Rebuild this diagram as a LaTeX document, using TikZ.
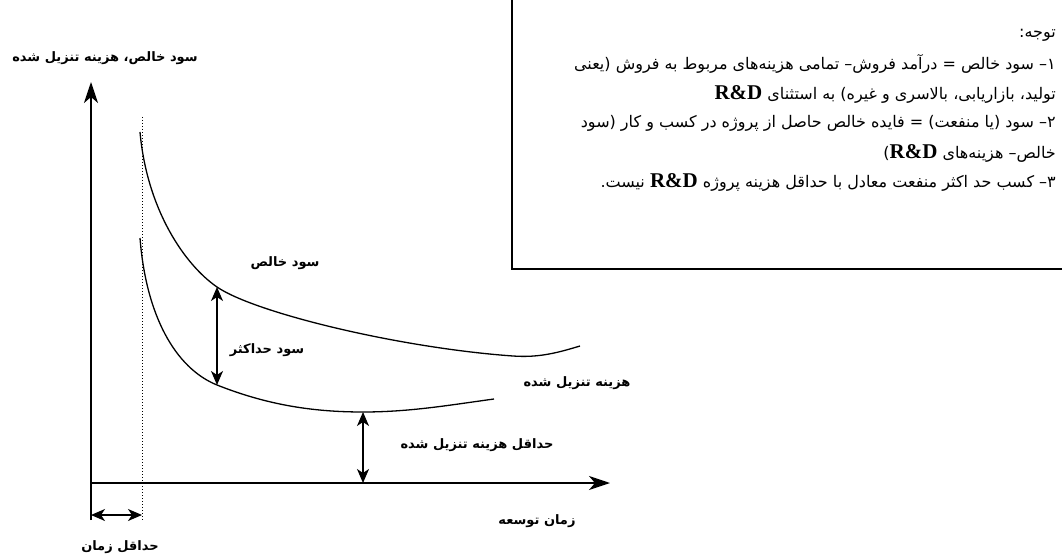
\documentclass[tikz,border=0pt]{standalone}
\usepackage{fontspec}
\usetikzlibrary{arrows.meta}
\TeXXeTstate=1
\newfontfamily\fa[Script=Arabic]{DejaVu Sans}
\newfontfamily\rdfont{Liberation Serif}
\newcommand{\RD}{\beginL{\rdfont\bfseries\fontsize{21}{21}\selectfont R\&D}\endL}

\tikzset{
  axisline/.style={line width=1.6pt, -{Stealth[length=21pt,width=14pt,inset=6pt]}},
  curveline/.style={line width=1.3pt},
  dblarrow/.style={line width=1.4pt,
    {Stealth[length=14pt,width=12pt,inset=4pt]}-{Stealth[length=14pt,width=12pt,inset=4pt]}},
  lbl/.style={font=\fa\bfseries\fontsize{13}{15}\selectfont, inner sep=0pt},
  note/.style={font=\fa\fontsize{16}{19}\selectfont, anchor=east, inner sep=0pt},
}

\begin{document}
\begin{tikzpicture}[x=1pt,y=-1pt]
\useasboundingbox (0,0) rectangle (1062,556);

% note frame (runs off the top and right edges)
\begin{scope}
  \clip (0,0) rectangle (1062,556);
  \draw[line width=1.4pt] (512,-20) rectangle (1080,269);
\end{scope}

% note text
\node[note] (n0) at (1056,35)  {\beginR توجه:\endR};
\node[note] (n1) at (1056,64)  {\beginR ۱– سود خالص = درآمد فروش– تمامی هزینه‌های مربوط به فروش (یعنی\endR};
\node[note] (n2) at (1056,94)  {\beginR تولید، بازاریابی، بالاسری و غیره) به استثنای \RD\endR};
\node[note] (n3) at (1056,123) {\beginR ۲– سود (یا منفعت) = فایده خالص حاصل از پروژه در کسب و کار (سود\endR};
\node[note] (n4) at (1056,153) {\beginR خالص– هزینه‌های \RD)\endR};
\node[note] (n5) at (1056,182) {\beginR ۳– کسب حد اکثر منفعت معادل با حداقل هزینه پروژه \RD{} نیست.\endR};

% axes
\coordinate (o) at (91,483);
\coordinate (ybot) at (91,520);
\coordinate (ytop) at (91,82);
\coordinate (xend) at (610,483);
\draw[line width=1.6pt] (ybot) -- (o);
\draw[axisline] (o) -- (ytop);
\draw[axisline] (o) -- (xend);

% minimum development time marker
\coordinate (dtop) at (142,117);
\coordinate (dbot) at (142,520);
\draw[dotted, line width=1pt] (dtop) -- (dbot);

% net profit curve
\coordinate (pT) at (217,287);
\draw[curveline] (140,132) .. controls (147,210) and (185,265) .. (pT)
  .. controls (255,313) and (400,348) .. (513,356)
  .. controls (540,358) and (560,352) .. (580,346);

% discounted cost curve
\coordinate (pB) at (217,385);
\coordinate (cT) at (363,412);
\draw[curveline] (140,238) .. controls (146,315) and (175,368) .. (pB)
  .. controls (265,404) and (310,412) .. (cT)
  .. controls (410,412) and (450,405) .. (494,399);

% dimension arrows
\draw[dblarrow] (pT) -- (pB);
\coordinate (cB) at (363,483);
\draw[dblarrow] (cT) -- (cB);
\coordinate (tL) at (91,515);
\coordinate (tR) at (142,515);
\draw[dblarrow] (tL) -- (tR);

% labels
\node[lbl] (ylab)  at (105,58)  {\beginR سود خالص، هزینه تنزیل شده\endR};
\node[lbl] (lnet)  at (285,263) {\beginR سود خالص\endR};
\node[lbl] (lmax)  at (267,350) {\beginR سود حداکثر\endR};
\node[lbl] (lcost) at (577,383) {\beginR هزینه تنزیل شده\endR};
\node[lbl] (lmin)  at (477,445) {\beginR حداقل هزینه تنزیل شده\endR};
\node[lbl] (ldev)  at (537,521) {\beginR زمان توسعه\endR};
\node[lbl] (ltime) at (120,547) {\beginR حداقل زمان\endR};
\end{tikzpicture}
\end{document}
